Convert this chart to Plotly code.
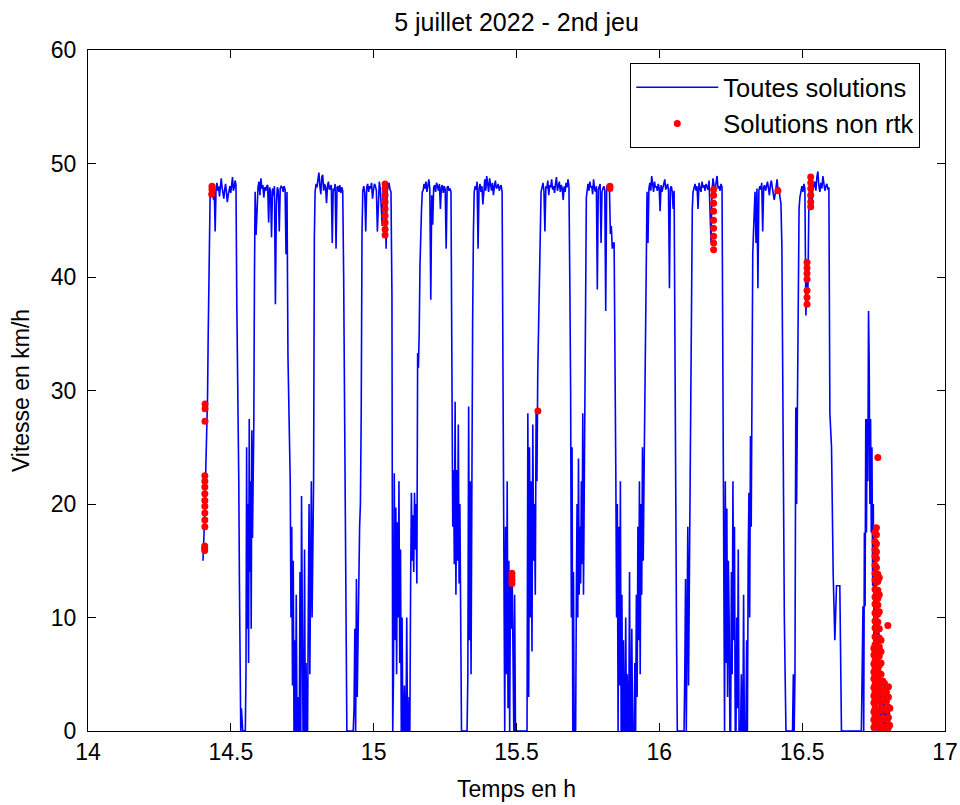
import numpy as np
import plotly.graph_objects as go

# ---- segment boundaries (time in hours) ----
seg_bounds = [14.4025, 14.430, 14.521, 14.585, 14.700, 14.795, 14.895, 14.962,
              15.064, 15.173, 15.274, 15.352, 15.453, 15.586, 15.687, 15.747,
              15.845, 15.957, 16.055, 16.118, 16.223, 16.335, 16.429, 16.492,
              16.597, 16.713, 16.807]

# ---- speed values (km/h) read per segment ----
rise0 = [15.0, 16.1, 18.0, 20.0, 22.5, 27.3, 28.6, 29.5, 35.0, 40.0, 44.0, 47.5]
plat1 = [47.9, 47.2, 48.1, 46.8, 47.5, 44.0, 47.8, 48.3, 47.6, 48.0, 47.1, 48.4, 48.7, 47.9, 47.3,
         46.9, 47.7, 48.2, 47.5, 46.6, 47.2, 47.9, 48.0, 47.4, 48.3, 48.8, 47.6, 47.9, 48.5, 48.1]
stop1 = [37.5, 33.0, 30.0, 22.0, 13.0, 0, 0, 2, 0, 0, 0, 0, 0, 0, 5, 25, 9, 20, 6, 27.5, 14, 22,
         9, 26.5, 17, 22.5, 27, 40]
plat2 = [47.5, 43.7, 46.0, 47.9, 48.4, 47.2, 48.7, 47.8, 48.1, 47.0, 47.9, 47.6, 48.0, 48.1, 44.8,
         47.9, 47.5, 43.5, 47.8, 47.2, 48.0, 37.6, 46.5, 47.9, 47.6, 44.0, 47.8, 48.0, 47.9, 47.5,
         48.0, 47.7, 42.0, 47.5]
stop2 = [33.0, 28.0, 22.7, 22.0, 10.0, 18.0, 4.0, 15.0, 0.0, 8.0, 0.0, 12.0, 0.0, 3.0, 0.0, 0.0,
         14.0, 0.0, 20.7, 2.0, 0.0, 0.0, 16.0, 0.0, 6.0, 0.0, 0.0, 11.0, 20.0, 5.0, 17.0, 22.0,
         10.0, 20.0, 22.0, 43.5]
plat3 = [47.5, 48.2, 47.9, 48.6, 49.2, 48.0, 47.3, 48.8, 49.0, 47.6, 48.2, 47.9, 46.5, 48.0, 48.4,
         47.7, 47.9, 48.1, 43.0, 47.8, 47.6, 48.2, 42.5, 47.9, 48.0, 47.5, 48.1, 47.4, 47.9, 47.6]
stop3 = [40.0, 28.0, 15.0, 8.8, 0, 0, 0, 0, 0, 0, 0, 0, 0, 2.0, 9.0, 0, 13.4, 3.0, 9.0, 12.0,
         18.0, 20.0, 28.0, 44.0]
plat4 = [47.6, 48.0, 47.4, 44.0, 47.9, 48.2, 47.5, 48.0, 47.8, 48.3, 46.9, 47.7, 48.2, 48.0, 47.6,
         44.0, 47.0, 48.4, 47.8, 45.5, 44.5, 47.9, 48.1, 48.0, 42.5, 47.6, 47.9, 48.3, 47.7, 47.5]
stop4 = [38.3, 0.0, 5.0, 22.7, 8.0, 19.7, 5.0, 18.4, 10.0, 22.0, 6.0, 16.0, 0.0, 10.0, 0.0, 0.0,
         4.0, 0.0, 0.0, 10.0, 0.0, 0.0, 3.0, 0.0, 13.0, 21.0, 15.0, 19.0, 14.0, 21.0, 16.0, 20.0,
         13.0, 33.3, 32.0, 35.0, 41.0, 44.5, 46.0, 47.5]
plat5 = [47.6, 48.2, 47.8, 48.4, 47.5, 48.0, 48.6, 47.8, 38.0, 47.2, 44.6, 47.9, 48.1, 47.5, 48.3,
         48.0, 47.6, 48.2, 46.0, 47.9, 48.1, 47.4, 48.0, 47.7, 42.5, 47.9, 48.0, 47.6, 47.8, 47.5]
stop5 = [29.6, 18.0, 23.0, 14.7, 29.0, 12.0, 23.0, 15.0, 27.0, 13.0, 20.0, 12.0, 0, 0, 0, 0, 0, 0,
         0, 0, 5.0, 28.6, 8.0, 22.0, 5.0, 28.6, 36.0, 44.0]
plat6 = [47.5, 48.0, 47.7, 48.4, 42.5, 47.8, 48.2, 47.5, 48.0, 46.4, 47.9, 48.6, 47.6, 48.9, 48.2,
         47.5, 48.7, 47.9, 47.6, 48.3, 47.2, 48.0, 48.5, 47.8, 47.9, 48.2, 47.6, 47.9, 48.1, 47.5]
stop6 = [28.0, 25.0, 0.0, 18.0, 5.0, 22.0, 2.0, 15.0, 0.0, 13.4, 9.0, 14.0, 4.0, 0.0, 12.0, 0.0,
         0, 0, 0, 0, 0, 0, 0, 0, 0, 0, 0, 0, 0, 0, 28.0, 3.0, 25.0, 10.0, 22.0, 7.0, 27.0, 15.0,
         20.0, 12.0, 28.2, 22.0, 31.6, 36.0, 42.0, 47.0]
plat7 = [47.5, 47.9, 48.3, 47.6, 44.0, 48.0, 47.8, 48.5, 47.2, 48.1, 47.9, 48.6, 47.7, 48.0, 47.4,
         48.2, 48.8, 47.6, 47.9, 48.4, 47.5, 48.1, 47.8, 46.8, 48.0, 47.5, 48.3, 47.9, 48.6, 48.0]
stop7 = [38.6, 30.0, 10.0, 25.0, 0, 14.0, 0, 0, 0, 12.0, 20.0, 10.0, 24.0, 12.0, 18.0, 13.0, 22.0,
         14.7, 28.0, 12.0, 25.0, 28.0, 38.0, 47.0]
plat8 = [47.5, 48.2, 47.6, 48.4, 47.9, 48.0, 47.3, 48.6, 47.8, 47.5, 48.0, 38.9, 47.7, 47.9, 48.2,
         43.0, 47.5, 47.8, 48.0, 47.6, 37.0, 47.9, 48.1, 48.0, 47.7, 43.8, 44.5, 42.5, 43.0, 43.0]
stop8 = [33.7, 22.7, 10.0, 20.0, 0.0, 18.0, 4.0, 22.0, 0.0, 12.0, 0.0, 8.0, 0, 0, 10.0, 0.0, 5.0,
         0, 0, 14.0, 0.0, 0.0, 9.0, 0.0, 0.0, 0.0, 6.0, 0.0, 12.0, 3.0, 18.0, 8.0, 22.0, 5.0, 20.0,
         12.0, 25.0, 15.0, 22.0, 30.0, 35.0, 44.0]
plat9 = [47.5, 43.0, 47.8, 48.3, 47.6, 48.9, 48.1, 47.5, 48.4, 47.9, 48.0, 47.6, 48.2, 47.8, 45.8,
         48.1, 47.5, 47.9, 48.3, 48.6, 47.7, 47.9, 48.2, 47.6, 39.0, 47.8, 48.0, 47.5, 46.0, 47.6]
stop9 = [28.6, 21.4, 8.4, 0, 0, 0, 0, 0, 0, 0, 0, 0, 0, 5.0, 13.4, 0.0, 9.0, 18.0, 4.0, 13.0,
         18.0, 28.6, 38.0, 46.0]
plat10 = [47.5, 47.9, 48.2, 47.6, 48.0, 46.0, 48.3, 47.8, 47.5, 48.4, 47.9, 48.1, 47.6, 48.2, 47.9,
          47.7, 48.5, 45.0, 43.0, 47.6, 48.7, 48.0, 47.5, 48.3, 48.9, 47.8, 48.0, 47.6, 48.2, 47.9]
stop10 = [23.0, 10.0, 0.0, 22.0, 6.0, 19.6, 3.0, 15.0, 10.0, 0.0, 0.0, 14.0, 5.0, 22.0, 8.0, 18.0,
          0.0, 0.0, 10.0, 2.0, 16.0, 0.0, 0.0, 0.0, 5.0, 0.0, 0.0, 12.0, 0.0, 0.0, 0.0, 8.0, 0.0,
          15.0, 21.0, 10.0, 26.0, 18.0, 33.7, 42.0, 44.0, 47.0]
plat11 = [47.5, 43.0, 47.8, 39.0, 47.6, 48.0, 47.7, 48.3, 44.0, 47.9, 48.1, 47.6, 48.0, 48.4, 47.8,
          47.2, 48.1, 48.5, 47.9, 47.5, 46.8, 47.3, 48.1, 48.6, 47.6, 47.9, 47.0, 46.5]
stop11 = [42.7, 29.8, 15.8, 10.0, 4.8, 0, 0, 0, 0, 0, 0, 0, 0, 0, 5.0, 0.0, 5.0, 28.5, 20.0, 28.5,
          40.0, 46.0]
plat12 = [47.0, 47.6, 48.0, 47.5, 48.2, 47.8, 36.6, 40.0, 38.5, 46.5, 48.6, 47.8, 46.0, 48.2, 47.9,
          48.4, 47.6, 48.8, 49.3, 48.0, 47.5, 48.3, 47.8, 48.9, 48.1, 47.6, 48.0, 48.2, 47.7, 47.9]
stop12 = [28.0, 25.0, 13.8, 8.0, 12.8, 12.8, 12.8, 0.0, 0.0, 0.0, 0.0, 0.0, 0.0, 0.0, 0.0, 0.0,
          0.0, 0.0, 0.0, 0.0]
stop13 = [11.0, 0.0, 17.5, 11.0, 27.5, 17.5, 27.5, 22.0, 37.0, 32.4, 20.0, 27.5, 17.5, 25.0, 12.8,
          20.0, 5.0, 17.0, 2.0, 14.0, 0.0, 12.0, 3.0, 9.3, 0.0, 6.0, 1.0, 4.0, 0.0, 3.0, 0.5, 4.0,
          0.0, 2.0, 0.0, 3.5, 1.0, 0.0, 2.0, 0.0]

segments = [rise0, plat1, stop1, plat2, stop2, plat3, stop3, plat4, stop4, plat5, stop5, plat6,
            stop6, plat7, stop7, plat8, stop8, plat9, stop9, plat10, stop10, plat11, stop11,
            plat12, stop12, stop13]

# ---- non-RTK solutions (red dots), isolated groups ----
nonrtk_t = [14.4085, 14.4085, 14.4085, 14.409, 14.409, 14.409, 14.409, 14.409, 14.409, 14.409,
            14.409, 14.409, 14.4095, 14.4098, 14.4098, 14.433, 14.434, 14.434,
            15.040, 15.040, 15.040, 15.040, 15.040, 15.040, 15.040, 15.040, 15.040,
            15.484, 15.484, 15.484, 15.484,
            15.575,
            15.827, 15.827,
            16.19, 16.19, 16.19, 16.19, 16.19, 16.19, 16.19, 16.19, 16.19,
            16.415,
            16.517, 16.517, 16.517, 16.517, 16.517, 16.517, 16.517,
            16.530, 16.530, 16.530, 16.530, 16.530, 16.530,
            16.765, 16.800, 16.806, 16.807]
nonrtk_v = [15.9, 16.1, 16.3, 18.0, 18.6, 19.2, 19.8, 20.3, 20.9, 21.5,
            22.0, 22.5, 27.3, 28.4, 28.8, 47.3, 47.7, 48.0,
            43.7, 44.2, 44.8, 45.4, 46.0, 46.6, 47.2, 47.8, 48.2,
            13.0, 13.3, 13.6, 13.9,
            28.2,
            48.0, 47.8,
            47.7, 47.2, 46.5, 45.8, 45.0, 44.3, 43.6, 43.0, 42.4,
            47.6,
            41.3, 40.8, 40.3, 39.8, 38.8, 38.2, 37.6,
            48.8, 48.3, 47.8, 47.2, 46.6, 46.2,
            24.1, 9.3, 0.5, 2.0]

# ---- final stop: dense non-RTK cluster, one list of speeds per time column ----
cluster_times = [16.751, 16.755, 16.760, 16.765, 16.770, 16.776, 16.782, 16.788, 16.795, 16.802]
cluster_col1 = [0.3, 1.0, 1.7, 2.5, 3.1, 3.8, 4.6, 5.2, 5.9, 6.7, 7.3]
cluster_col2 = [0.6, 1.3, 2.0, 2.8, 3.4, 4.1, 4.9, 5.5, 6.2, 7.0, 7.6, 8.3, 9.1, 9.7, 10.4, 11.2,
                11.8, 12.5, 13.3, 13.9, 14.6, 15.4, 16.0, 16.7, 17.5]
cluster_col3 = [0.4, 1.1, 1.8, 2.6, 3.2, 3.9, 4.7, 5.3, 6.0, 6.8, 7.4, 8.1, 8.9, 9.5, 10.2, 11.0,
                11.6, 12.3, 13.1, 13.7, 14.4, 15.2, 15.8, 16.5, 17.3, 17.9]
cluster_col4 = [0.5, 1.2, 1.9, 2.7, 3.3, 4.0, 4.8, 5.4, 6.1, 6.9, 7.5, 8.2, 9.0, 9.6, 10.3, 11.1,
                11.7, 12.4, 13.2, 13.8]
cluster_col5 = [0.3, 1.0, 1.8, 2.6, 3.4, 4.2, 5.0, 5.8, 6.6, 7.4, 8.2, 9.0, 10.5, 12.0, 13.5]
cluster_col6 = [0.2, 1.0, 1.8, 2.6, 3.4, 4.2, 5.0, 6.0, 7.0, 8.0]
cluster_col7 = [0.4, 1.2, 2.0, 2.8, 3.6, 4.4]
cluster_col8 = [0.3, 1.1, 1.9, 2.7, 3.5, 4.2]
cluster_col9 = [0.2, 1.0, 1.8, 2.6, 3.4]
cluster_col10 = [0.3, 1.2, 2.1, 3.0, 3.9]
cluster_cols = [cluster_col1, cluster_col2, cluster_col3, cluster_col4, cluster_col5,
                cluster_col6, cluster_col7, cluster_col8, cluster_col9, cluster_col10]

x_ticks = [14, 14.5, 15, 15.5, 16, 16.5, 17]
x_ticklabels = ["14", "14.5", "15", "15.5", "16", "16.5", "17"]
y_ticks = [0, 10, 20, 30, 40, 50, 60]

# build the sampled time axis: samples are evenly spaced within each segment
t_all, v_all = [], []
for i, vals in enumerate(segments):
    a, b = seg_bounds[i], seg_bounds[i + 1]
    last = (i == len(segments) - 1)
    ts = np.linspace(a, b, len(vals), endpoint=last)
    t_all.extend(ts.tolist())
    v_all.extend(vals)

red_t = list(nonrtk_t)
red_v = list(nonrtk_v)
for tc, col in zip(cluster_times, cluster_cols):
    red_t.extend([tc] * len(col))
    red_v.extend(col)

FONT = "Liberation Sans, Arial, sans-serif"

fig = go.Figure()
fig.add_trace(go.Scatter(
    x=t_all, y=v_all, mode="lines", name="Toutes solutions",
    line=dict(color="#0000FF", width=1.6)))
fig.add_trace(go.Scatter(
    x=red_t, y=red_v, mode="markers", name="Solutions non rtk",
    marker=dict(color="#FF0000", size=7, line=dict(width=0))))

axis_common = dict(showline=True, linecolor="black", linewidth=1.3, mirror="ticks",
                   ticks="inside", ticklen=8, tickcolor="black", tickwidth=1,
                   showgrid=False, zeroline=False, automargin=False,
                   tickfont=dict(family=FONT, size=23, color="black"))

fig.update_layout(
    width=960, height=805,
    margin=dict(l=88, r=15, t=50, b=74),
    paper_bgcolor="white", plot_bgcolor="white",
    font=dict(family=FONT, color="black"),
    title=dict(text="5 juillet 2022 - 2nd jeu", x=0.5, xref="paper",
               y=1 - 22 / 805, yref="container", yanchor="middle",
               font=dict(family=FONT, size=25, color="black")),
    xaxis=dict(range=[14, 17], tickvals=x_ticks, ticktext=x_ticklabels,
               title=dict(text="Temps en h", standoff=17,
                          font=dict(family=FONT, size=23, color="black")),
               **axis_common),
    yaxis=dict(range=[0, 60], tickvals=y_ticks, ticklabelstandoff=6,
               title=dict(text="Vitesse en km/h", standoff=14,
                          font=dict(family=FONT, size=23, color="black")),
               **axis_common),
    legend=dict(x=0.9708, y=0.981, xanchor="right", yanchor="top",
                bgcolor="white", bordercolor="black", borderwidth=1.3,
                font=dict(family=FONT, size=25.5, color="black"),
                itemwidth=82, tracegroupgap=0),
    showlegend=True,
)

fig.write_html("out.html")
